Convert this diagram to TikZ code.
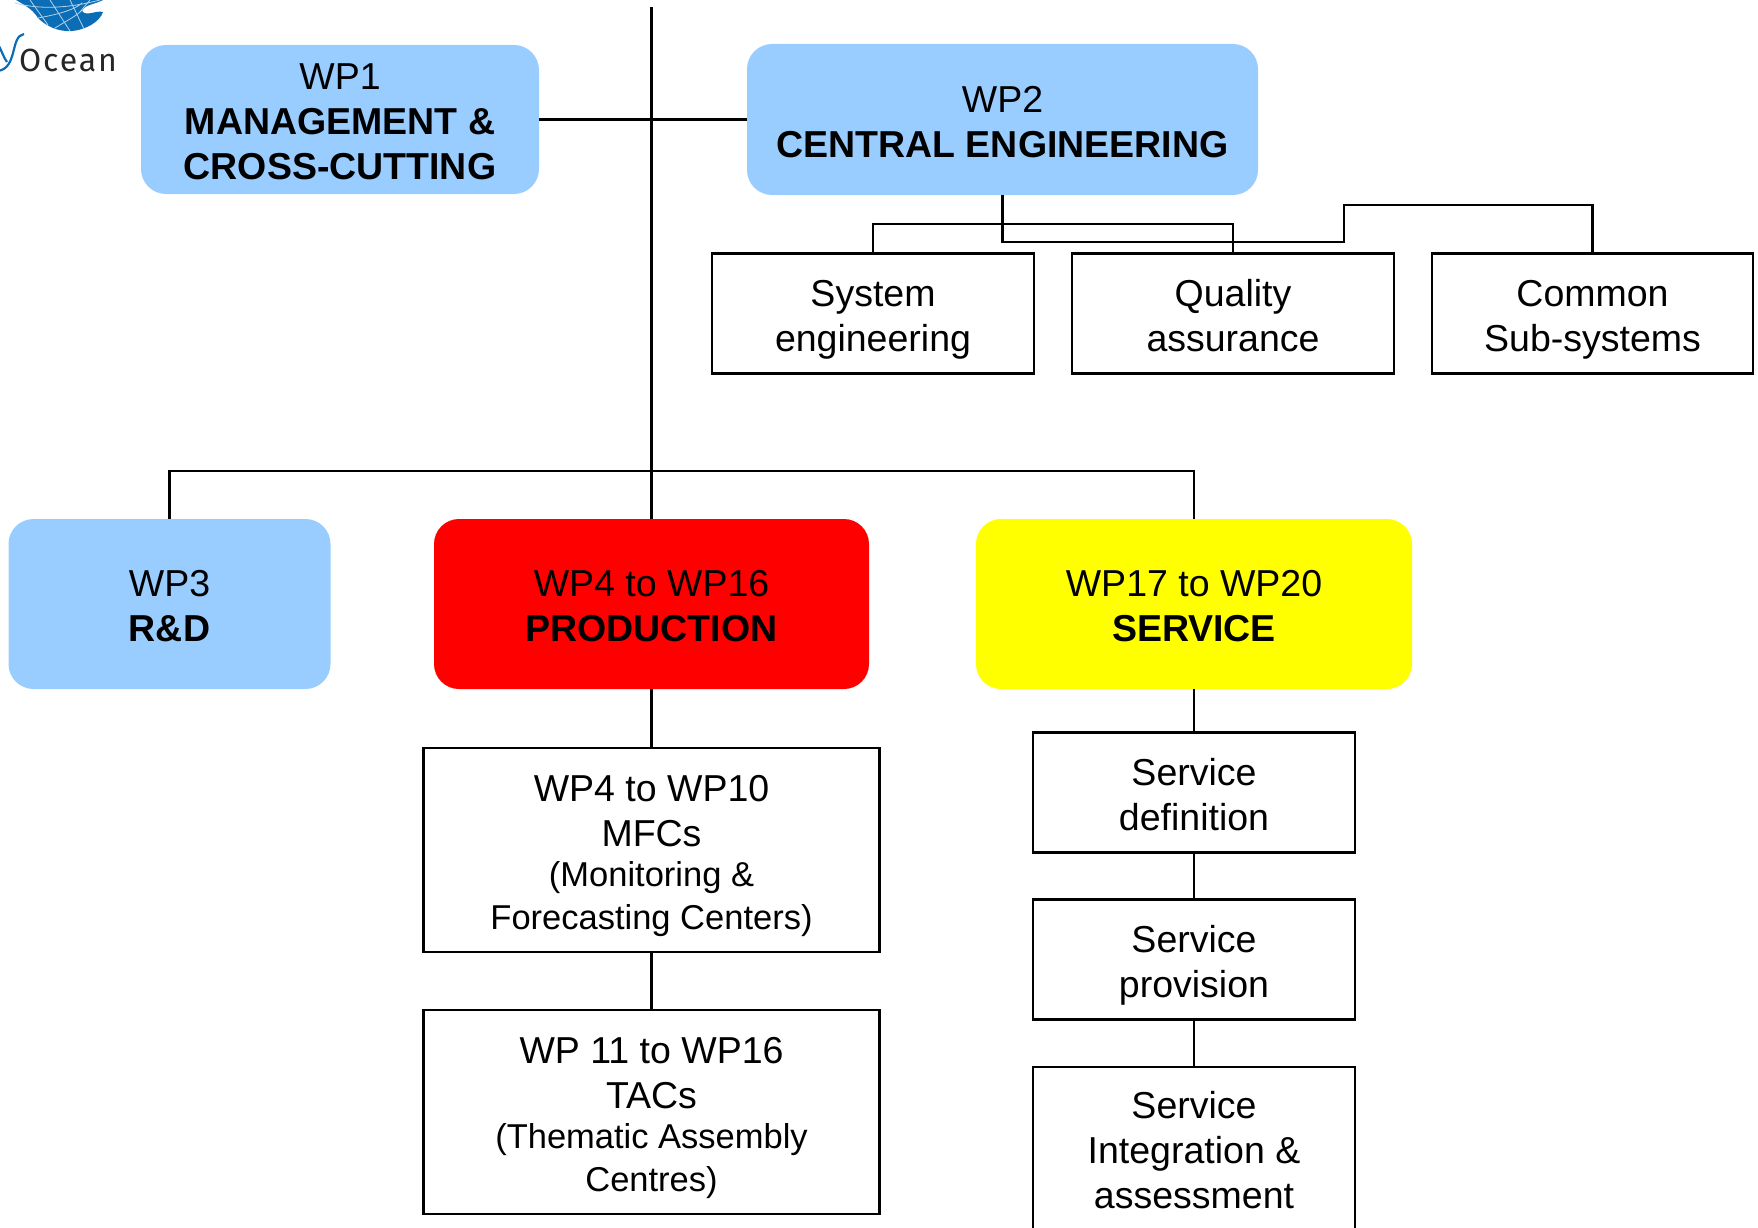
\documentclass[tikz,border=0pt]{standalone}
\usepackage{fontspec}
\setmainfont{Liberation Sans}
\newfontfamily\logofont[LetterSpace=6]{Fira Sans}
\definecolor{lightblue}{HTML}{99CCFF}
\definecolor{logoblue}{HTML}{0A6DB5}
\definecolor{purered}{HTML}{FF0000}
\definecolor{pureyellow}{HTML}{FFFF00}
\tikzset{
  x=1pt,y=-1pt,
  basebox/.style={anchor=center,inner sep=0pt,align=center,font=\fontsize{37.5}{45}\selectfont},
  wbox/.style={basebox,draw=black,line width=2.1pt,fill=white},
  cbox/.style={basebox,rounded corners=25pt},
  link/.style={draw=black,line width=2.1pt},
  blue box/.style={cbox,fill=lightblue},
}
\newcommand{\smalltxt}{\fontsize{34.5}{41}\selectfont}
\newcommand{\tstr}{\rule{0pt}{42.5pt}}
\newcommand{\bstr}{\rule[-12pt]{0pt}{12pt}}
\begin{document}
\begin{tikzpicture}
\useasboundingbox (0,0) rectangle (1758,1228);
% logo
\begin{scope}
\clip (0,0) rectangle (130,100);
\fill[logoblue] (13,-2) .. controls (22,4) and (32,8) .. (38,18) .. controls (46,26) and (58,32) .. (72,31) .. controls (85,30) and (100,22) .. (103,12) .. controls (96,10) and (86,17) .. (82,11) .. controls (85,4) and (95,5) .. (107,-2) -- cycle;
\draw[white!70!logoblue,line width=0.8pt] (15,3) .. controls (40,10) and (70,8) .. (100,0) (38,18) .. controls (55,15) and (75,10) .. (82,3) (55,28) .. controls (68,20) and (78,15) .. (82,10);
\draw[white!70!logoblue,line width=0.8pt] (50,0) -- (70,31) (70,0) -- (84,29) (30,0) -- (48,25) (90,0) -- (80,12);
\draw[logoblue,line width=2.2pt] (-2,71) .. controls (18,68) and (10,36) .. (24,34);
\draw[logoblue,line width=2.2pt] (-1,46) .. controls (2,52) and (4,58) .. (7,62);
\end{scope}
\node[inner sep=0pt,anchor=base west,font=\logofont\fontsize{32}{34}\selectfont,text=black!85] (logo) at (19,72) {Ocean};
% boxes
\node[blue box,minimum width=398pt,minimum height=149pt] (wp1) at (340,119.5) {\tstr WP1\\\textbf{MANAGEMENT \&}\\\textbf{CROSS-CUTTING}\bstr};
\node[blue box,minimum width=511pt,minimum height=151pt] (wp2) at (1002.5,119.5) {\tstr WP2\\\textbf{CENTRAL ENGINEERING}\bstr};
\node[wbox,minimum width=322pt,minimum height=120pt] (sys) at (873,313.5) {\tstr System\\engineering\bstr};
\node[wbox,minimum width=322pt,minimum height=120pt] (qa) at (1233,313.5) {\tstr Quality\\assurance\bstr};
\node[wbox,minimum width=321pt,minimum height=120pt] (com) at (1592.5,313.5) {\tstr Common\\Sub-systems\bstr};
\node[blue box,minimum width=322pt,minimum height=170pt] (wp3) at (169.5,604) {\tstr WP3\\\textbf{R\&D}\bstr};
\node[cbox,fill=purered,minimum width=435pt,minimum height=170pt] (prod) at (651.5,604) {\tstr WP4 to WP16\\\textbf{PRODUCTION}\bstr};
\node[cbox,fill=pureyellow,minimum width=436pt,minimum height=170pt] (serv) at (1194,604) {\tstr WP17 to WP20\\\textbf{SERVICE}\bstr};
\node[wbox,minimum width=456pt,minimum height=204pt] (mfc) at (651.5,850) {\tstr WP4 to WP10\\MFCs\\[-4.5pt]{\smalltxt (Monitoring \&}\\[-2.5pt]{\smalltxt Forecasting Centers)}\bstr};
\node[wbox,minimum width=456pt,minimum height=204pt] (tac) at (651.5,1112) {\tstr WP 11 to WP16\\TACs\\[-4.5pt]{\smalltxt (Thematic Assembly}\\[-2.5pt]{\smalltxt Centres)}\bstr};
\node[wbox,minimum width=322pt,minimum height=120pt] (sdef) at (1194,792.5) {\tstr Service\\definition\bstr};
\node[wbox,minimum width=322pt,minimum height=120pt] (sprov) at (1194,959.5) {\tstr Service\\provision\bstr};
\node[wbox,minimum width=322pt,minimum height=163pt] (sint) at (1194,1148.5) {\tstr Service\\Integration \&\\assessment\bstr};
% connectors
\coordinate (top) at (651.5,7);
\coordinate (bus) at (651.5,471);
\coordinate (low) at (1002.5,242);
\coordinate (step) at (1344,205);
\coordinate (sysbar) at (1002.5,224);
\draw[link] (top) -- (prod.north);
\draw[link] (wp1.east) -- (wp2.west);
\draw[link] (wp3.north) |- (bus) -| (serv.north);
\draw[link] (sys.north) |- (sysbar) -| (qa.north);
\draw[link] (wp2.south) -- (low) -- (low -| step) -- (step) -| (com.north);
\draw[link] (prod.south) -- (mfc.north);
\draw[link] (mfc.south) -- (tac.north);
\draw[link] (serv.south) -- (sdef.north);
\draw[link] (sdef.south) -- (sprov.north);
\draw[link] (sprov.south) -- (sint.north);
\end{tikzpicture}
\end{document}
